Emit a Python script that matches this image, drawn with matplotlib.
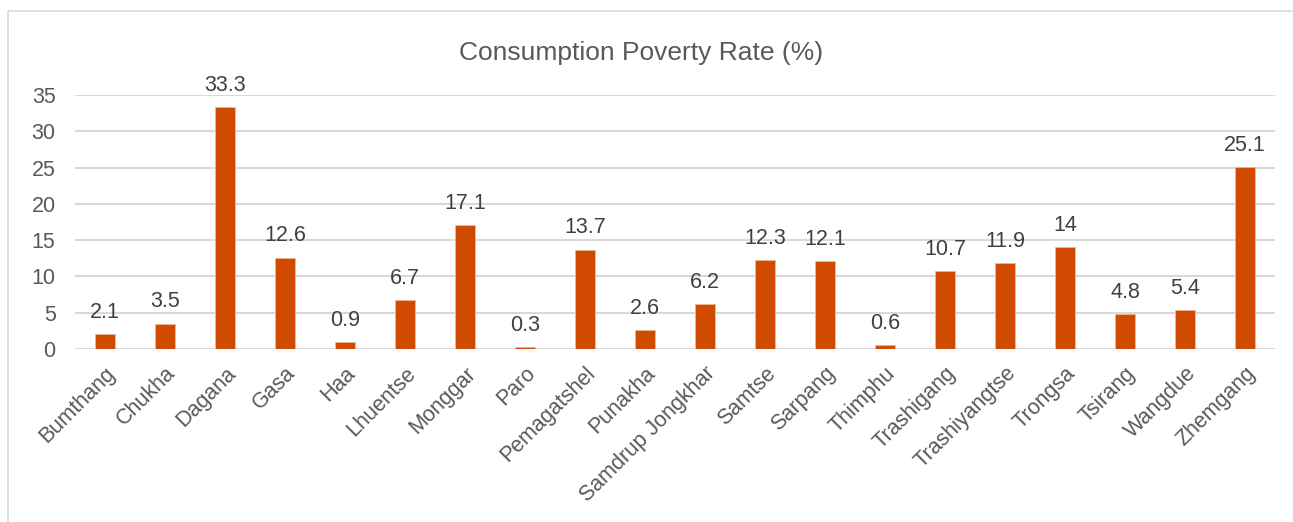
import matplotlib
matplotlib.use("Agg")
import matplotlib.pyplot as plt
from matplotlib.patches import Rectangle

districts = ["Bumthang", "Chukha", "Dagana", "Gasa", "Haa", "Lhuentse", "Monggar",
             "Paro", "Pemagatshel", "Punakha", "Samdrup Jongkhar", "Samtse", "Sarpang",
             "Thimphu", "Trashigang", "Trashiyangtse", "Trongsa", "Tsirang", "Wangdue",
             "Zhemgang"]
poverty_rate = [2.1, 3.5, 33.3, 12.6, 0.9, 6.7, 17.1, 0.3, 13.7, 2.6, 6.2, 12.3, 12.1,
                0.6, 10.7, 11.9, 14, 4.8, 5.4, 25.1]
yticks = [0, 5, 10, 15, 20, 25, 30, 35]

plt.rcParams['font.family'] = ['Liberation Sans', 'DejaVu Sans']

W, H = 1293, 522
fig = plt.figure(figsize=(W / 100, H / 100), dpi=100)

# chart area border (Excel style, right/bottom cut off)
fig.patches.append(Rectangle((8 / W, -0.1), 1.2, (H - 11) / H + 0.1,
                             transform=fig.transFigure, fill=False,
                             edgecolor='#D9D9D9', linewidth=1.2))

ax = fig.add_axes([75 / W, (H - 349) / H, (1275 - 75) / W, (349 - 95) / H])

x = range(len(districts))
bars = ax.bar(x, poverty_rate, width=0.32, color='#D04A02', edgecolor='#F0B890',
              linewidth=0.6, zorder=3)

for i, v in enumerate(poverty_rate):
    lab = ('%g' % v)
    ax.annotate(lab, (i, v), xytext=(0, 8), textcoords='offset points',
                ha='center', va='bottom', fontsize=15.5, color='#404040')

ax.set_xlim(-0.5, len(districts) - 0.5)
ax.set_ylim(0, 35)
ax.set_yticks(yticks)
ax.yaxis.grid(True, color='#D9D9D9', linewidth=1.5, zorder=0)
ax.set_xticks(list(x))
ax.set_xticklabels(districts, rotation=45, ha='right', rotation_mode='anchor')
ax.tick_params(axis='both', length=0, labelsize=15.5, colors='#595959')
ax.tick_params(axis='x', pad=10)
ax.tick_params(axis='y', pad=14)
for s in ax.spines.values():
    s.set_visible(False)

fig.text(641 / W, (H - 53) / H, "Consumption Poverty Rate (%)", ha='center', va='center',
         fontsize=19, color='#595959')

fig.savefig("out.png", dpi=100)
